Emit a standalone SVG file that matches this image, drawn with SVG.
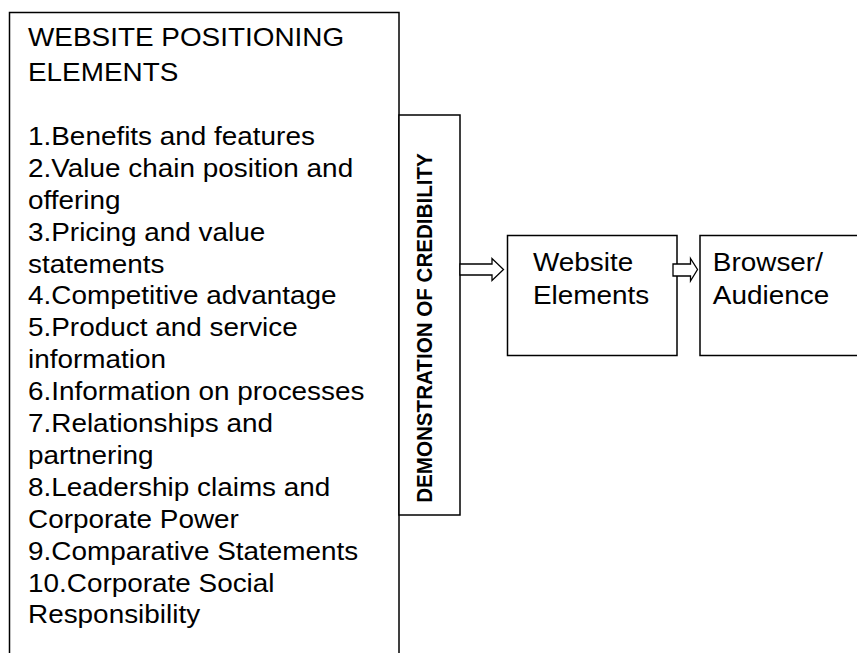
<svg xmlns="http://www.w3.org/2000/svg" width="857" height="653" viewBox="0 0 857 653">
  <style>
    .box { fill: #ffffff; stroke: #000000; stroke-width: 1.5; }
    .arrow { fill: #ffffff; stroke: #000000; stroke-width: 1.3; stroke-linejoin: miter; }
    .txt { font-family: "Liberation Sans", Arial, sans-serif; font-size: 25.6px; fill: #000000; }
    .vtxt { font-family: "Liberation Sans", Arial, sans-serif; font-size: 20.6px; font-weight: bold; fill: #000000; }
  </style>
  <rect x="0" y="0" width="857" height="653" fill="#ffffff"/>

  <!-- Positioning elements list -->
  <g id="positioning-elements">
    <rect class="box" x="9.5" y="12.5" width="389.5" height="660"/>
    <g transform="scale(1.09,1)">
      <text class="txt" x="25.7" y="46.5">WEBSITE POSITIONING</text>
      <text class="txt" x="25.7" y="81">ELEMENTS</text>
      <text class="txt" x="25.7" y="145">1.Benefits and features</text>
      <text class="txt" x="25.7" y="176.9">2.Value chain position and</text>
      <text class="txt" x="25.7" y="208.8">offering</text>
      <text class="txt" x="25.7" y="240.7">3.Pricing and value</text>
      <text class="txt" x="25.7" y="272.6">statements</text>
      <text class="txt" x="25.7" y="304.5">4.Competitive advantage</text>
      <text class="txt" x="25.7" y="336.4">5.Product and service</text>
      <text class="txt" x="25.7" y="368.3">information</text>
      <text class="txt" x="25.7" y="400.2">6.Information on processes</text>
      <text class="txt" x="25.7" y="432.1">7.Relationships and</text>
      <text class="txt" x="25.7" y="464">partnering</text>
      <text class="txt" x="25.7" y="495.9">8.Leadership claims and</text>
      <text class="txt" x="25.7" y="527.8">Corporate Power</text>
      <text class="txt" x="25.7" y="559.7">9.Comparative Statements</text>
      <text class="txt" x="25.7" y="591.6">10.Corporate Social</text>
      <text class="txt" x="25.7" y="623.5">Responsibility</text>
    </g>
  </g>

  <!-- Credibility bar -->
  <g id="credibility">
    <rect class="box" x="399" y="115" width="61" height="400"/>
    <g transform="scale(1.09,1)">
      <text class="vtxt" text-anchor="middle" transform="translate(396,328) rotate(-90)">DEMONSTRATION OF CREDIBILITY</text>
    </g>
  </g>

  <!-- Website elements -->
  <g id="website-elements">
    <rect class="box" x="507.5" y="235.5" width="169.5" height="120"/>
    <g transform="scale(1.09,1)">
      <text class="txt" x="489" y="271">Website</text>
      <text class="txt" x="489" y="304">Elements</text>
    </g>
  </g>

  <!-- Browser / audience -->
  <g id="browser-audience">
    <rect class="box" x="700" y="235.5" width="170" height="120"/>
    <g transform="scale(1.09,1)">
      <text class="txt" x="654" y="271">Browser/</text>
      <text class="txt" x="654" y="304">Audience</text>
    </g>
  </g>

  <!-- Block arrows -->
  <g id="connectors">
    <polygon class="arrow" points="460,264 492,264 492,258.5 503.5,269.5 492,280.5 492,275 460,275"/>
    <polygon class="arrow" points="673,264 690.5,264 690.5,258.5 697.5,269.5 690.5,281 690.5,276 673,276"/>
  </g>
</svg>
